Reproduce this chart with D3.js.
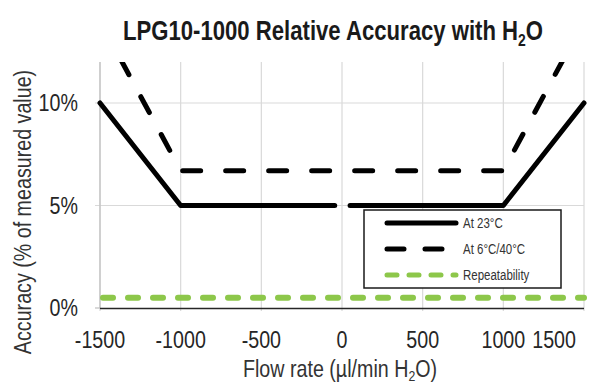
<!DOCTYPE html>
<html>
<head>
<meta charset="utf-8">
<script src="https://cdn.jsdelivr.net/npm/d3@7"></script>
<style>
  body { margin: 0; background: #fff; }
  svg { display: block; }
  text { font-family: "Liberation Sans", Arial, sans-serif; }
</style>
</head>
<body>
<div id="chart"></div>
<script>
// data
var xTicks = [-1500, -1000, -500, 0, 500, 1000, 1500];
var yTicks = [0, 5, 10];

// At 23°C, drawn in two pieces (small gap at 0)
var solidLeftX = [-1500, -1000, -45];
var solidLeftY = [10, 5, 5];
var solidRightX = [50, 1000, 1500];
var solidRightY = [5, 5, 10];

// At 6°C/40°C
var dashedX = [-1500, -1000, 1000, 1500];
var dashedY = [14, 6.7, 6.7, 14];

// Repeatability
var repeatX = [-1500, 1500];
var repeatY = [0.5, 0.5];

var legendLabels = ["At 23°C", "At 6°C/40°C", "Repeatability"];

var W = 594, H = 385;
var margin = {top: 62, right: 10, bottom: 77, left: 100};
var width = W - margin.left - margin.right;   // 484
var height = H - margin.top - margin.bottom;  // 246
var NARROW = 0.82; // fake "Arial Narrow" by squeezing Liberation Sans

var svg = d3.select("#chart").append("svg")
  .attr("width", W)
  .attr("height", H);

var x = d3.scaleLinear().domain([-1500, 1500]).range([0, width]);
var y = d3.scaleLinear().domain([0, 12]).range([height, 0]);

var g = svg.append("g")
  .attr("transform", "translate(" + margin.left + "," + margin.top + ")");

// narrow text helper
function ntext(parent, tx, ty, rot) {
  return parent.append("text")
    .attr("transform", "translate(" + tx + "," + ty + ")" + (rot ? " rotate(" + rot + ")" : "") + " scale(" + NARROW + ",1)");
}

// grid
g.selectAll(".vgrid").data(xTicks).enter().append("line")
  .attr("x1", function(d) { return x(d); })
  .attr("x2", function(d) { return x(d); })
  .attr("y1", 0).attr("y2", height + 3)
  .attr("stroke", "#d9d9d9").attr("stroke-width", 1.2);

g.selectAll(".hgrid").data(yTicks.filter(function(d) { return d > 0; })).enter().append("line")
  .attr("x1", -5).attr("x2", width)
  .attr("y1", function(d) { return y(d); })
  .attr("y2", function(d) { return y(d); })
  .attr("stroke", "#d9d9d9").attr("stroke-width", 1.2);

// left axis line + zero tick
g.append("line").attr("x1", 0).attr("x2", 0).attr("y1", 0).attr("y2", height)
  .attr("stroke", "#bfbfbf").attr("stroke-width", 1.2);
g.append("line").attr("x1", -5).attr("x2", 0).attr("y1", y(0)).attr("y2", y(0))
  .attr("stroke", "#bfbfbf").attr("stroke-width", 1.2);

// bottom axis line
g.append("line").attr("x1", 0).attr("x2", width).attr("y1", y(0) + 0.5).attr("y2", y(0) + 0.5)
  .attr("stroke", "#262626").attr("stroke-width", 1.6);

// tick labels
yTicks.forEach(function(d) {
  ntext(g, -22, y(d))
    .attr("dy", "0.35em")
    .attr("text-anchor", "end")
    .attr("font-size", 24)
    .attr("fill", "#262626")
    .text(d + "%");
});

xTicks.forEach(function(d, i) {
  var last = i === xTicks.length - 1;
  ntext(g, last ? x(d) - 8 : x(d), height + 32)
    .attr("dy", "0.35em")
    .attr("text-anchor", last ? "end" : "middle")
    .attr("font-size", 24)
    .attr("fill", "#262626")
    .text(d);
});

// clip for data lines
svg.append("defs").append("clipPath").attr("id", "plotclip")
  .append("rect").attr("x", -4).attr("y", 0).attr("width", width + 8).attr("height", height + 4);

var line = d3.line()
  .x(function(d) { return x(d[0]); })
  .y(function(d) { return y(d[1]); });

function zip(xs, ys) { return xs.map(function(v, i) { return [v, ys[i]]; }); }

var lines = g.append("g").attr("clip-path", "url(#plotclip)");

lines.append("path").datum(zip(repeatX, repeatY))
  .attr("d", line)
  .attr("fill", "none")
  .attr("stroke", "#8dc74a")
  .attr("stroke-width", 6)
  .attr("stroke-linecap", "round")
  .attr("stroke-dasharray", "10,15")
  .attr("stroke-dashoffset", -3);

lines.append("path").datum(zip(dashedX, dashedY))
  .attr("d", line)
  .attr("fill", "none")
  .attr("stroke", "#000")
  .attr("stroke-width", 5)
  .attr("stroke-linecap", "round")
  .attr("stroke-linejoin", "round")
  .attr("stroke-dasharray", "18,25");

[zip(solidLeftX, solidLeftY), zip(solidRightX, solidRightY)].forEach(function(pts) {
  lines.append("path").datum(pts)
    .attr("d", line)
    .attr("fill", "none")
    .attr("stroke", "#000")
    .attr("stroke-width", 5)
    .attr("stroke-linecap", "round")
    .attr("stroke-linejoin", "round");
});

// legend
var lg = svg.append("g").attr("transform", "translate(364,210)");
lg.append("rect").attr("width", 197).attr("height", 78)
  .attr("fill", "#fff").attr("stroke", "#1a1a1a").attr("stroke-width", 1.5);

var legendStyles = [
  {color: "#000", w: 5, dash: null},
  {color: "#000", w: 5, dash: "17,21"},
  {color: "#8dc74a", w: 5, dash: "10,12"}
];

legendLabels.forEach(function(lab, i) {
  var ly = 13 + i * 26;
  var s = legendStyles[i];
  var l = lg.append("line")
    .attr("x1", 23).attr("x2", 92)
    .attr("y1", ly).attr("y2", ly)
    .attr("stroke", s.color).attr("stroke-width", s.w)
    .attr("stroke-linecap", "round");
  if (s.dash) l.attr("stroke-dasharray", s.dash);
  ntext(lg, 99, ly)
    .attr("dy", "0.35em")
    .attr("font-size", 14)
    .attr("fill", "#333")
    .text(lab);
});

// title
var title = ntext(svg, 333, 40)
  .attr("text-anchor", "middle")
  .attr("font-size", 27)
  .attr("font-weight", "bold")
  .attr("fill", "#1a1a1a");
title.append("tspan").text("LPG10-1000 Relative Accuracy with H");
title.append("tspan").attr("font-size", 17).attr("dy", 6).text("2");
title.append("tspan").attr("dy", -6).text("O");

// x axis title
var xt = ntext(svg, 340, 377)
  .attr("text-anchor", "middle")
  .attr("font-size", 24)
  .attr("fill", "#333");
xt.append("tspan").text("Flow rate (µl/min H");
xt.append("tspan").attr("font-size", 15).attr("dy", 4).text("2");
xt.append("tspan").attr("dy", -4).text("O)");

// y axis title
ntext(svg, 23, 212, -90)
  .attr("text-anchor", "middle")
  .attr("dy", "0.35em")
  .attr("font-size", 24)
  .attr("fill", "#333")
  .text("Accuracy (% of measured value)");
</script>
</body>
</html>
